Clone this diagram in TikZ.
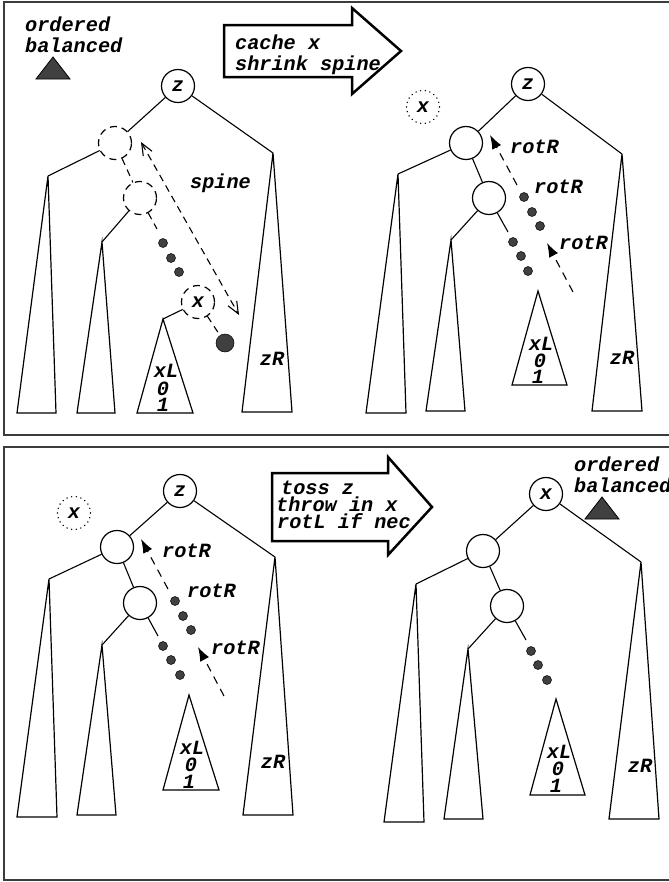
\documentclass[tikz,border=0pt]{standalone}
\usepackage{fontspec}
\setmonofont{Liberation Mono}
\usetikzlibrary{arrows.meta}
\definecolor{dk}{RGB}{64,64,64}
\definecolor{fr}{RGB}{60,60,60}
\tikzset{
  lbl/.style={font=\ttfamily\bfseries\itshape\fontsize{20.3}{21}\selectfont, inner sep=0pt},
  tl/.style={lbl, text height=11bp, text depth=0bp},
  tn/.style={circle, draw, line width=1.2bp, minimum size=33bp, inner sep=0pt, lbl},
  dtn/.style={tn, dash pattern=on 7bp off 5bp},
  otn/.style={tn, line width=1.5bp, dash pattern=on 0.1bp off 4.6bp, line cap=round},
  edg/.style={line width=1.1bp},
  dedg/.style={edg, dash pattern=on 7bp off 5bp},
  tri/.style={line width=1.2bp, line join=miter},
  blob/.style={circle, draw=black, fill=dk, minimum size=9bp, inner sep=0pt, line width=0.5bp},
  rot/.style={line width=1.1bp, dash pattern=on 8bp off 6bp, -{Latex[length=14bp,width=10bp]}},
  spinearrow/.style={dedg, {Straight Barb[length=12bp,width=10bp]}-{Straight Barb[length=12bp,width=10bp]}},
  bigarrow/.style={draw, line width=2.5bp, line join=miter, fill=white},
  frame/.style={draw=fr, line width=1.5bp},
  balmark/.style={fill=dk, draw=black, line width=0.8bp, line join=miter},
}
\newcommand{\mytri}[5]{\coordinate (#1) at (#2); \draw[tri] (#1) -- (#3,#5) -- (#4,#5) -- cycle;}
\begin{document}
\begin{tikzpicture}[x=1bp,y=-1bp]
\useasboundingbox (0,0) rectangle (669,882);
% frames
\draw[frame] (4,2) rectangle (690,435);
\draw[frame] (4,447) rectangle (690,880);

% ================= panel 1, left tree =================
\node[lbl, anchor=base west] (p1o1) at (25,31) {ordered};
\node[lbl, anchor=base west] (p1o2) at (25,52) {balanced};
\draw[balmark] (53,57) -- (70,79) -- (36,79) -- cycle;

\node[tn]  (p1z) at (178,86) {z};
\node[dtn] (p1a) at (115,143) {};
\node[dtn] (p1b) at (140,198) {};
\node[dtn] (p1x) at (198,302) {x};
\node[blob, minimum size=18bp] (p1ball) at (225,343) {};
\mytri{p1t1}{48,176}{17}{56}{413}
\mytri{p1t2}{102,242}{77}{115}{413}
\mytri{p1t3}{163,319}{137}{193}{413}
\mytri{p1t4}{273,153}{242}{292}{412}
\coordinate (p1bend) at (157,229);
\draw[edg] (p1z) -- (p1a);
\draw[edg] (p1z) -- (p1t4);
\draw[edg] (p1a) -- (p1t1);
\draw[edg] (p1b) -- (p1t2);
\draw[edg] (p1x) -- (p1t3);
\draw[dedg] (p1a) -- (p1b);
\draw[dedg] (p1b) -- (p1bend);
\draw[dedg] (p1x) -- (p1ball);
\node[blob] (p1d1) at (163,243) {};
\node[blob] (p1d2) at (171,258) {};
\node[blob] (p1d3) at (179,272) {};
\coordinate (p1s1) at (141,142);
\coordinate (p1s2) at (239,315);
\draw[spinearrow] (p1s1) -- (p1s2);
\node[lbl, anchor=base west] (p1spine) at (190,188) {spine};
\node[tl] (p1xl) at (166,372) {xL};
\node[tl] (p1x0) at (163,390) {0};
\node[tl] (p1x1) at (163,406) {1};
\node[tl] (p1zr) at (272,360) {zR};

% arrow 1
\draw[bigarrow] (224,25) -- (352,25) -- (352,8) -- (401,51) -- (352,94) -- (352,77) -- (224,77) -- cycle;
\node[lbl, anchor=base west] (p1c1) at (235,49) {cache x};
\node[lbl, anchor=base west] (p1c2) at (235,70) {shrink spine};

% ================= panel 1, right tree =================
\node[otn] (q1x) at (423,107) {x};
\node[tn]  (q1z) at (528,84) {z};
\node[tn]  (q1c) at (466,143) {};
\node[tn]  (q1d) at (489,198) {};
\mytri{q1t1}{398,174}{366}{406}{413}
\mytri{q1t2}{451,240}{426}{465}{411}
\mytri{q1t3}{538,291}{512}{567}{385}
\mytri{q1t4}{622,154}{592}{642}{411}
\coordinate (q1dend) at (508,232);
\draw[edg] (q1z) -- (q1c);
\draw[edg] (q1z) -- (q1t4);
\draw[edg] (q1c) -- (q1t1);
\draw[edg] (q1c) -- (q1d);
\draw[edg] (q1d) -- (q1t2);
\draw[edg] (q1d) -- (q1dend);
\node[blob] (q1d1) at (513,242) {};
\node[blob] (q1d2) at (521,256) {};
\node[blob] (q1d3) at (528,271) {};
\node[blob] (q1e1) at (524,197) {};
\node[blob] (q1e2) at (532,212) {};
\node[blob] (q1e3) at (540,226) {};
\coordinate (q1r1s) at (517,185);
\coordinate (q1r1e) at (490,135);
\draw[rot] (q1r1s) -- (q1r1e);
\coordinate (q1r2s) at (573,292);
\coordinate (q1r2e) at (547,243);
\draw[rot] (q1r2s) -- (q1r2e);
\node[lbl, anchor=west] (q1l1) at (510,147) {rotR};
\node[lbl, anchor=west] (q1l2) at (534,187) {rotR};
\node[lbl, anchor=west] (q1l3) at (559,243) {rotR};
\node[tl] (q1xl) at (541,345) {xL};
\node[tl] (q1x0) at (540,362) {0};
\node[tl] (q1x1) at (538,378) {1};
\node[tl] (q1zr) at (622,359) {zR};

% ================= panel 2, left tree =================
\node[otn] (p2x) at (74,513) {x};
\node[tn]  (p2z) at (180,491) {z};
\node[tn]  (p2c) at (117,547) {};
\node[tn]  (p2d) at (140,603) {};
\mytri{p2t1}{49,579}{17}{57}{817}
\mytri{p2t2}{102,645}{77}{116}{815}
\mytri{p2t3}{189,695}{163}{219}{790}
\mytri{p2t4}{275,557}{243}{293}{815}
\coordinate (p2dend) at (158,636);
\draw[edg] (p2z) -- (p2c);
\draw[edg] (p2z) -- (p2t4);
\draw[edg] (p2c) -- (p2t1);
\draw[edg] (p2c) -- (p2d);
\draw[edg] (p2d) -- (p2t2);
\draw[edg] (p2d) -- (p2dend);
\node[blob] (p2d1) at (163,646) {};
\node[blob] (p2d2) at (171,660) {};
\node[blob] (p2d3) at (180,675) {};
\node[blob] (p2e1) at (175,601) {};
\node[blob] (p2e2) at (183,616) {};
\node[blob] (p2e3) at (191,630) {};
\coordinate (p2r1s) at (168,589);
\coordinate (p2r1e) at (141,539);
\draw[rot] (p2r1s) -- (p2r1e);
\coordinate (p2r2s) at (224,696);
\coordinate (p2r2e) at (198,647);
\draw[rot] (p2r2s) -- (p2r2e);
\node[lbl, anchor=west] (p2l1) at (162,551) {rotR};
\node[lbl, anchor=west] (p2l2) at (187,591) {rotR};
\node[lbl, anchor=west] (p2l3) at (211,648) {rotR};
\node[tl] (p2xl) at (192,749) {xL};
\node[tl] (p2x0) at (191,766) {0};
\node[tl] (p2x1) at (189,783) {1};
\node[tl] (p2zr) at (273,763) {zR};

% arrow 2
\draw[bigarrow] (272,473) -- (388,473) -- (388,457) -- (432,507) -- (388,555) -- (388,541) -- (272,541) -- cycle;
\node[lbl, anchor=base west] (p2c1) at (281,494) {toss z};
\node[lbl, anchor=base west] (p2c2) at (276,511) {throw in x};
\node[lbl, anchor=base west] (p2c3) at (277,528) {rotL if nec};

% ================= panel 2, right tree =================
\node[lbl, anchor=base west] (q2o1) at (574,471) {ordered};
\node[lbl, anchor=base west] (q2o2) at (574,492) {balanced};
\draw[balmark] (602,497) -- (619,519) -- (585,519) -- cycle;
\node[tn] (q2x) at (546,494) {x};
\node[tn] (q2c) at (483,551) {};
\node[tn] (q2d) at (507,606) {};
\mytri{q2t1}{416,584}{384}{424}{822}
\mytri{q2t2}{468,649}{444}{483}{819}
\mytri{q2t3}{556,699}{530}{585}{795}
\mytri{q2t4}{641,562}{609}{659}{819}
\coordinate (q2dend) at (526,640);
\draw[edg] (q2x) -- (q2c);
\draw[edg] (q2x) -- (q2t4);
\draw[edg] (q2c) -- (q2t1);
\draw[edg] (q2c) -- (q2d);
\draw[edg] (q2d) -- (q2t2);
\draw[edg] (q2d) -- (q2dend);
\node[blob] (q2d1) at (531,651) {};
\node[blob] (q2d2) at (538,665) {};
\node[blob] (q2d3) at (547,680) {};
\node[tl] (q2xl) at (559,753) {xL};
\node[tl] (q2x0) at (558,770) {0};
\node[tl] (q2x1) at (556,787) {1};
\node[tl] (q2zr) at (640,767) {zR};
\end{tikzpicture}
\end{document}
